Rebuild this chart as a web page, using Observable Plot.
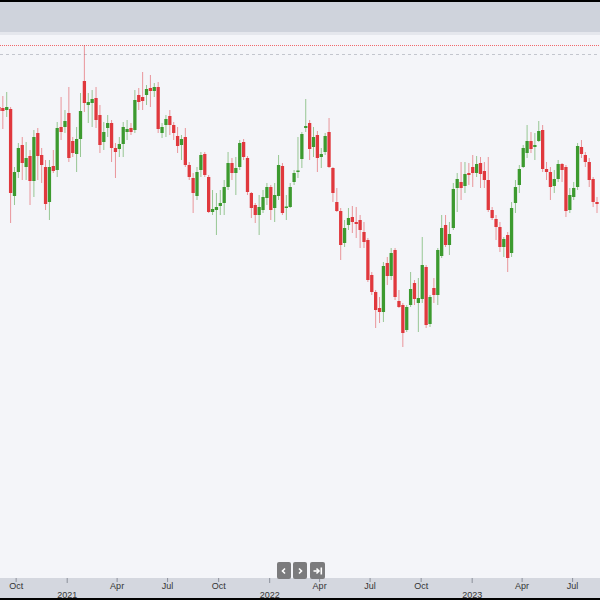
<!DOCTYPE html>
<html>
<head>
<meta charset="utf-8">
<script src="https://cdn.jsdelivr.net/npm/d3@7"></script>
<script src="https://cdn.jsdelivr.net/npm/@observablehq/plot@0.6"></script>
<style>
  html, body { margin: 0; padding: 0; background: #000; }
  #frame { position: relative; width: 600px; height: 600px; background: #000; overflow: hidden; }
  #header { position: absolute; left: 0; top: 2px; width: 600px; height: 30px; background: #cfd3dc; }
  #strip { position: absolute; left: 0; top: 32px; width: 600px; height: 3px; background: #e5e7ed; }
  #chart { position: absolute; left: 0; top: 35px; width: 600px; height: 563px;
           background: linear-gradient(#f4f5f9 0, #f4f5f9 543px, #d4d7df 543px, #d4d7df 563px); }
  .btn { position: absolute; top: 562px; height: 17px; background: #7b7b7d; border-radius: 2px;
         display: flex; align-items: center; justify-content: center; }
</style>
</head>
<body>
<div id="frame">
  <div id="header"></div>
  <div id="strip"></div>
  <div id="chart"></div>
  <div class="btn" style="left:277px;width:14px">
    <svg width="8" height="8" viewBox="0 0 8 8"><polyline points="5,1.5 2.5,4 5,6.5" fill="none" stroke="#fff" stroke-width="1.6"/></svg>
  </div>
  <div class="btn" style="left:293px;width:14px">
    <svg width="8" height="8" viewBox="0 0 8 8"><polyline points="3,1.5 5.5,4 3,6.5" fill="none" stroke="#fff" stroke-width="1.6"/></svg>
  </div>
  <div class="btn" style="left:310px;width:15px">
    <svg width="10" height="8" viewBox="0 0 10 8"><line x1="0.5" y1="4" x2="6" y2="4" stroke="#fff" stroke-width="1.6"/><polyline points="3.5,1.5 6,4 3.5,6.5" fill="none" stroke="#fff" stroke-width="1.6"/><line x1="8.3" y1="0.5" x2="8.3" y2="7.5" stroke="#fff" stroke-width="1.6"/></svg>
  </div>
</div>
<script>
// Weekly candles, first week starting 2020-08-31
const firstWeek = "2020-08-31";

const open = [
  493,492,490,491,404,428,455,433,444,419,
  467,445,433,398,434,430,473,473,487,459,
  446,461,519,495,497,502,485,458,472,477,
  452,451,456,468,472,470,505,503,505,512,
  509,513,467,475,484,475,464,455,463,435,
  422,404,430,446,423,388,390,394,397,413,
  437,427,433,458,442,407,395,385,390,402,
  413,392,404,434,392,393,418,428,441,472,
  477,453,465,443,448,468,432,398,389,357,
  375,383,378,380,368,360,325,308,292,288,
  337,324,350,299,295,270,295,317,297,301,
  333,276,312,305,344,375,355,372,412,418,
  414,427,433,427,437,429,420,390,381,373,
  353,365,347,397,415,433,447,459,453,459,
  470,431,428,414,421,436,433,390,403,413,
  453,445,438,421,398
];
const high = [
  505,504,508,493,433,457,463,458,450,470,
  472,452,440,440,450,478,503,490,513,463,
  473,507,555,507,510,513,495,478,485,480,
  457,463,478,480,477,510,512,528,515,525,
  517,518,477,485,490,478,473,465,472,438,
  427,433,448,448,425,410,407,410,420,448,
  442,443,460,461,444,408,397,405,410,417,
  415,417,445,437,405,417,430,463,468,501,
  480,473,469,452,467,482,433,412,392,380,
  392,394,393,385,378,362,328,310,303,338,
  343,352,352,310,297,295,328,320,322,363,
  335,305,322,352,385,385,378,417,427,438,
  438,437,445,444,443,438,443,393,385,378,
  363,368,398,420,435,455,475,468,467,479,
  475,438,433,430,440,437,435,412,418,457,
  460,448,442,423,403
];
const low = [
  472,471,483,377,395,422,420,420,395,403,
  420,417,390,380,427,423,460,467,438,443,
  428,443,488,477,473,472,447,450,463,438,
  422,443,443,460,465,467,490,490,495,493,
  503,467,462,463,465,460,447,440,433,420,
  387,400,423,423,387,385,365,385,385,410,
  420,405,430,440,405,382,377,365,387,395,
  380,378,400,385,380,392,415,422,432,468,
  440,443,428,432,445,432,398,388,340,353,
  370,367,362,352,352,318,305,272,277,278,
  315,320,300,292,253,268,293,295,268,297,
  272,273,297,295,342,353,345,370,388,400,
  407,415,413,423,412,412,388,380,360,348,
  343,328,343,387,407,432,442,447,440,458,
  428,420,400,407,418,418,383,387,400,410,
  442,433,413,393,387
];
const close = [
  489,489,493,407,428,452,437,442,419,463,
  444,435,396,433,429,472,468,479,442,447,
  461,489,497,498,501,480,455,468,477,452,
  448,456,473,471,468,500,498,499,511,509,
  513,471,473,481,475,467,454,461,435,423,
  407,428,445,425,388,391,393,397,413,437,
  427,432,457,443,408,392,385,393,403,413,
  390,405,435,387,393,413,427,429,466,474,
  451,463,442,446,464,433,407,389,355,372,
  382,378,376,370,358,320,308,290,288,334,
  324,347,303,293,267,293,311,301,302,335,
  275,303,305,350,372,355,366,411,421,412,
  426,425,427,436,426,420,390,382,373,353,
  361,342,392,413,431,452,459,451,455,469,
  431,428,413,421,436,430,389,405,412,454,
  446,438,420,398,396
];

// Reference lines
const highLine = [555];
const markerLine = [546];

// Axis ticks
const quarterTicks = ["2020-10-01","2021-04-01","2021-07-01","2021-10-01","2022-04-01","2022-07-01","2022-10-01","2023-04-01","2023-07-01"];
const quarterLabels = ["Oct","Apr","Jul","Oct","Apr","Jul","Oct","Apr","Jul"];
const yearTicks = ["2021-01-01","2022-01-01","2023-01-01"];
const yearLabels = ["2021","2022","2023"];

const start = new Date(firstWeek + "T00:00:00Z");
const candles = open.map((o, i) => ({
  date: d3.utcDay.offset(start, 7 * i),
  open: o, high: high[i], low: low[i], close: close[i]
}));

const UP = "#3c9a2f", DOWN = "#e0383d";
const col = d => d.close >= d.open ? UP : DOWN;

const qDates = quarterTicks.map(s => new Date(s + "T00:00:00Z"));
const qMap = new Map(qDates.map((d, i) => [+d, quarterLabels[i]]));
const yDates = yearTicks.map(s => new Date(s + "T00:00:00Z"));
const yMap = new Map(yDates.map((d, i) => [+d, yearLabels[i]]));

const chart = Plot.plot({
  width: 600,
  height: 563,
  marginTop: 0,
  marginRight: 0,
  marginBottom: 20,
  marginLeft: 0,
  style: { background: "transparent", fontFamily: "'Liberation Sans', Arial, sans-serif", fontSize: "9px", overflow: "visible" },
  x: { type: "utc", domain: [new Date(Date.UTC(2020, 8, 2, 19)), new Date(Date.UTC(2023, 7, 20, 7))] },
  y: { domain: [22, 565], axis: null },
  marks: [
    Plot.ruleY(highLine, { y: d => d, stroke: "#f0686b", strokeWidth: 1, strokeDasharray: "1,1", shapeRendering: "crispEdges" }),
    Plot.ruleY(markerLine, { y: d => d, stroke: "#c3c6ce", strokeWidth: 1, strokeDasharray: "3,3", shapeRendering: "crispEdges" }),
    Plot.ruleX(candles, { x: "date", y1: "low", y2: "high", stroke: col, strokeOpacity: 0.5, strokeWidth: 1, clip: true }),
    Plot.ruleX(candles, {
      x: "date",
      y1: "open",
      y2: d => Math.abs(d.close - d.open) < 1.5 ? d.open + (d.close >= d.open ? 1.5 : -1.5) : d.close,
      stroke: col, strokeWidth: 3.3, clip: true
    }),
    Plot.axisX({ ticks: qDates, tickFormat: d => qMap.get(+d), tickSize: 4, tickPadding: 0, stroke: "#8c909a", color: "#333", label: null }),
    Plot.axisX({ ticks: yDates, tickFormat: d => yMap.get(+d), tickSize: 5, tickPadding: 8, stroke: "#8c909a", color: "#333", label: null })
  ]
});
document.getElementById("chart").appendChild(chart);
</script>
</body>
</html>
